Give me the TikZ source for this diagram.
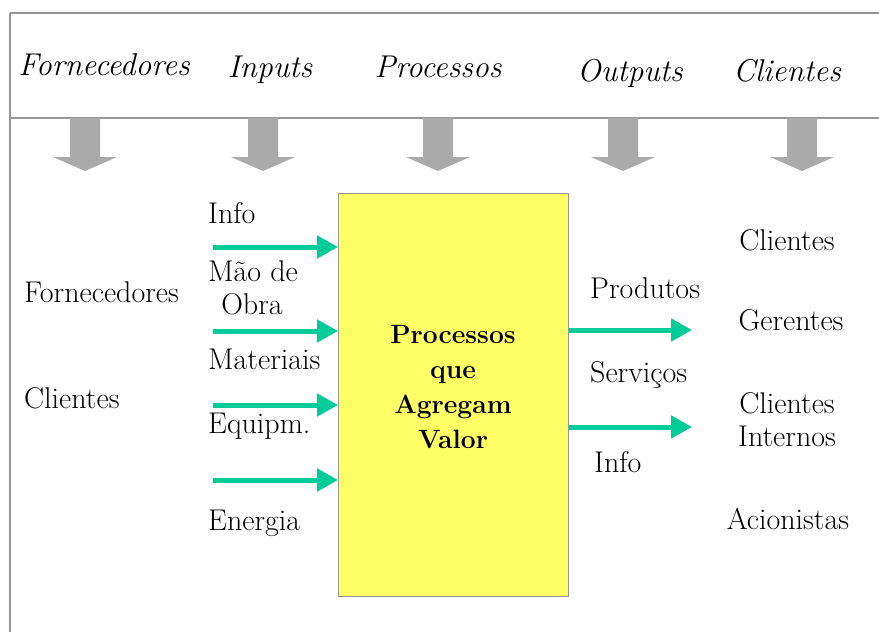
\documentclass[tikz,border=0pt]{standalone}
\usetikzlibrary{arrows.meta}
\definecolor{boxyellow}{RGB}{255,255,102}
\definecolor{arrowgreen}{RGB}{0,204,153}
\definecolor{frameg}{RGB}{150,150,150}
\definecolor{bigarrow}{RGB}{170,170,170}
\tikzset{
  lbl/.style={anchor=base west, inner sep=0pt, font=\fontsize{30}{36}\selectfont},
  lblc/.style={anchor=base, inner sep=0pt, font=\fontsize{30}{36}\selectfont},
  hdr/.style={anchor=base, inner sep=0pt, font=\fontsize{31.5}{38}\selectfont\itshape},
  boxtxt/.style={anchor=base, inner sep=0pt, font=\fontsize{26.5}{32}\selectfont\bfseries},
  greenarrow/.style={draw=arrowgreen, line width=5pt, -{Triangle[length=21pt,width=22pt]}},
  framel/.style={draw=frameg, line width=1.2pt},
}
\newcommand{\downarrowshape}[1]{%
  \fill[bigarrow] (#1-15,118) -- (#1+15,118) -- (#1+15,157) -- (#1+32,157) -- (#1,171) -- (#1-32,157) -- (#1-15,157) -- cycle;}
\begin{document}
\begin{tikzpicture}[x=1pt,y=-1pt]
\useasboundingbox (0,0) rectangle (879,632);
% frame
\draw[framel] (10,13) -- (879,13);
\draw[framel] (10,118) -- (879,118);
\draw[framel] (10,13) -- (10,632);
% headers
\node[hdr] (hF) at (104,75) {Fornecedores};
\node[hdr] (hI) at (270,77) {Inputs};
\node[hdr] (hP) at (438,77) {Processos};
\node[hdr] (hO) at (630,81) {Outputs};
\node[hdr] (hC) at (787,81) {Clientes};
% gray arrows
\downarrowshape{85}
\downarrowshape{263}
\downarrowshape{438}
\downarrowshape{623}
\downarrowshape{802}
% process box
\node[draw=frameg, fill=boxyellow, line width=0.8pt, minimum width=230pt, minimum height=403pt, inner sep=0pt, anchor=north west] (box) at (338,193) {};
\node[boxtxt] (b1) at (453,343) {Processos};
\node[boxtxt] (b2) at (453,378) {que};
\node[boxtxt] (b3) at (453,413) {Agregam};
\node[boxtxt] (b4) at (453,448) {Valor};
% left labels
\node[lbl] (lf) at (24,302) {Fornecedores};
\node[lbl] (lc) at (24,408) {Clientes};
% input labels
\node[lbl] (i1) at (208,223) {Info};
\node[lbl] (i2) at (208,281) {Mão de};
\node[lblc] (i2b) at (252,314) {Obra};
\node[lbl] (i3) at (208,369) {Materiais};
\node[lbl] (i4) at (208,433) {Equipm.};
\node[lbl] (i5) at (208,530) {Energia};
% input arrows
\coordinate (a1) at (213,247);
\coordinate (a2) at (213,331);
\coordinate (a3) at (213,405);
\coordinate (a4) at (213,480);
\draw[greenarrow] (a1) -- (a1 -| box.west);
\draw[greenarrow] (a2) -- (a2 -| box.west);
\draw[greenarrow] (a3) -- (a3 -| box.west);
\draw[greenarrow] (a4) -- (a4 -| box.west);
% output labels
\node[lbl] (o1) at (590,298) {Produtos};
\node[lbl] (o2) at (590,382) {Serviços};
\node[lbl] (o3) at (594,472) {Info};
% output arrows
\coordinate (e1) at (692,330);
\coordinate (e2) at (692,427);
\draw[greenarrow] (e1 -| box.east) -- (e1);
\draw[greenarrow] (e2 -| box.east) -- (e2);
% clients
\node[lblc] (c1) at (787,250) {Clientes};
\node[lblc] (c2) at (791,330) {Gerentes};
\node[lblc] (c3) at (787,413) {Clientes};
\node[lblc] (c3b) at (787,446) {Internos};
\node[lblc] (c4) at (788,529) {Acionistas};
\end{tikzpicture}
\end{document}
